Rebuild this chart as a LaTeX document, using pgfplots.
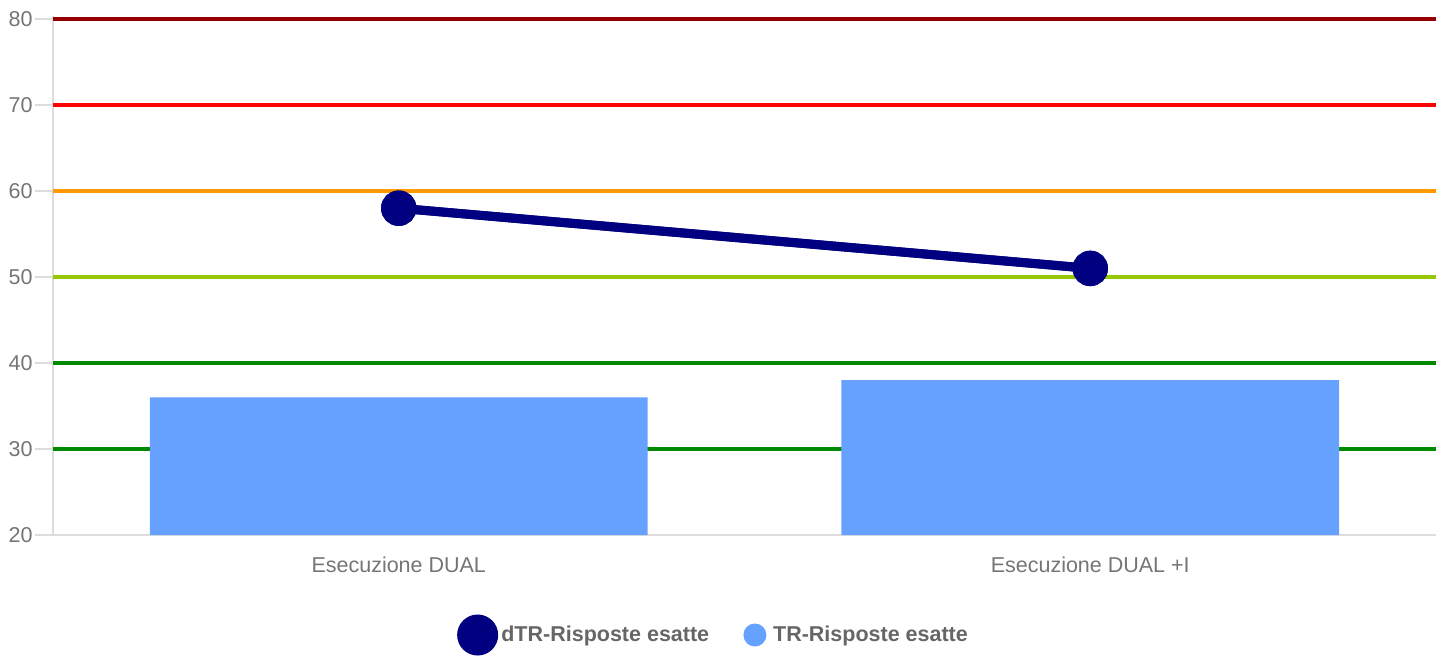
\documentclass[border=0pt]{standalone}
\usepackage{pgfplots}
\pgfplotsset{compat=1.18}
\usepackage{fontspec}
\setmainfont{Liberation Sans}

\definecolor{lvdarkred}{RGB}{150,0,0}
\definecolor{lvred}{RGB}{255,0,0}
\definecolor{lvorange}{RGB}{255,153,0}
\definecolor{lvlime}{RGB}{150,200,0}
\definecolor{lvgreen}{RGB}{0,138,0}
\definecolor{seriesnavy}{RGB}{0,0,128}
\definecolor{barblue}{RGB}{102,161,255}
\definecolor{axisgray}{RGB}{221,221,221}
\definecolor{ticktext}{RGB}{117,117,117}
\definecolor{legtext}{RGB}{102,102,102}

\newcommand{\lblfont}{\fontsize{10.75}{12}\selectfont}

\begin{document}
\begin{tikzpicture}
\begin{axis}[
  at={(0,0)}, anchor=south west,
  scale only axis, width=691.5pt, height=259.29pt,
  xmin=-0.5, xmax=1.5, ymin=20, ymax=80.3,
  ytick={20,30,40,50,60,70,80},
  xtick={0,1}, xticklabels={Esecuzione DUAL, Esecuzione DUAL +I},
  axis x line*=bottom, axis y line*=left,
  axis line style={draw=axisgray, line width=0.6pt},
  tick align=outside, major tick length=9pt,
  xtick style={draw=none},
  ytick style={draw=axisgray, line width=0.6pt},
  /pgf/number format/assume math mode=true,
  yticklabel style={font=\lblfont, text=ticktext, anchor=east, inner sep=1pt},
  xticklabel style={font=\lblfont, text=ticktext, anchor=north, yshift=1.5pt},
  legend style={at={(axis description cs:0.297,0)}, anchor=west,
    xshift=-3.5pt, yshift=-50pt,
    draw=none, fill=none, font=\lblfont\bfseries, text=legtext,
    legend columns=2, inner sep=0pt,
    nodes={inner sep=1.6pt},
    /tikz/every even column/.append style={column sep=15.5pt}},
  legend cell align=left,
]
% threshold bands
\addplot[lvgreen, line width=2.2pt, forget plot] coordinates {(-0.5,30) (1.5,30)};
\addplot[lvgreen, line width=2.2pt, forget plot] coordinates {(-0.5,40) (1.5,40)};
\addplot[lvlime, line width=2.2pt, forget plot] coordinates {(-0.5,50) (1.5,50)};
\addplot[lvorange, line width=2.2pt, forget plot] coordinates {(-0.5,60) (1.5,60)};
\addplot[lvred, line width=2.2pt, forget plot] coordinates {(-0.5,70) (1.5,70)};
\addplot[lvdarkred, line width=2.2pt, forget plot] coordinates {(-0.5,80) (1.5,80)};

% dTR series
\addplot[seriesnavy, line width=4.5pt, mark=*, mark size=6.6pt,
  mark options={draw=none, fill=seriesnavy},
  legend image code/.code={\fill[seriesnavy] (0pt,0pt) circle (8pt);}]
  coordinates {(0,58) (1,51)};
\addlegendentry{dTR-Risposte esatte}

% TR series
\addplot[ybar, bar width=0.72, fill=barblue, draw=none,
  legend image code/.code={\fill[barblue] (0pt,0pt) circle (5.75pt);
    \path (7.5pt,0pt);}]
  coordinates {(0,36) (1,38)};
\addlegendentry{TR-Risposte esatte}

% redraw the dTR series above the bars
\addplot[seriesnavy, line width=4.5pt, mark=*, mark size=6.6pt,
  mark options={draw=none, fill=seriesnavy}, forget plot]
  coordinates {(0,58) (1,51)};
\end{axis}
\path[use as bounding box] (-26.5pt,-58pt) rectangle (696pt,267.5pt);
\end{tikzpicture}
\end{document}
